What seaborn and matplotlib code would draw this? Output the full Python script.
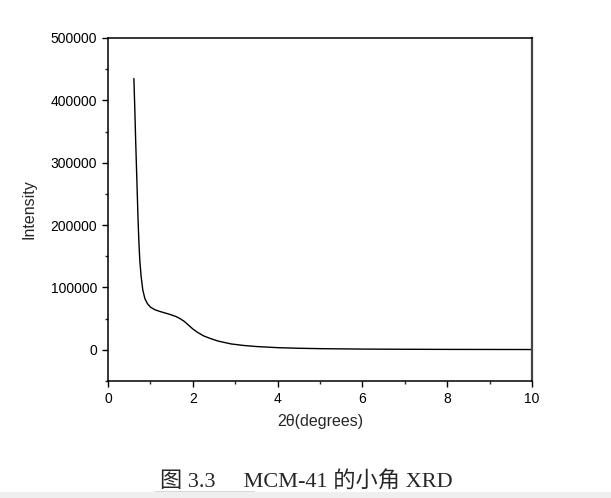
import matplotlib
matplotlib.use("Agg")
import matplotlib.pyplot as plt
import matplotlib.patches as mpatches
from matplotlib.ticker import MultipleLocator
import seaborn as sns
import pandas as pd

# small-angle XRD of MCM-41
two_theta = [0.61, 0.63, 0.65, 0.67, 0.69, 0.71, 0.73, 0.75, 0.78, 0.82, 0.87,
             0.93, 1.00, 1.10, 1.20, 1.30, 1.45, 1.60, 1.70, 1.80, 1.90,
             2.00, 2.10, 2.25, 2.40, 2.60, 2.90, 3.20, 3.50, 4.00, 4.50,
             5.00, 6.00, 7.00, 8.00, 9.00, 10.00]
intensity = [435000, 390000, 340000, 295000, 250000, 205000, 170000, 143000, 118000, 96000, 82000,
             74000, 68500, 64500, 62000, 60000, 57000, 53500, 50000, 45500, 39500,
             33500, 28500, 22500, 18500, 14000, 9500, 7000, 5300, 3500, 2500,
             1900, 1200, 900, 700, 600, 500]

x_ticks = [0, 2, 4, 6, 8, 10]
y_ticks = [0, 100000, 200000, 300000, 400000, 500000]
caption = "图 3.3     MCM-41 的小角 XRD"

df = pd.DataFrame({"two_theta": two_theta, "intensity": intensity})

sns.set_style("ticks")
plt.rcParams["font.family"] = ["Liberation Sans", "DejaVu Sans"]

fig = plt.figure(figsize=(6.11, 4.98), dpi=100)
ax = fig.add_axes([0.1768, 0.2349, 0.6939, 0.6888])

sns.lineplot(data=df, x="two_theta", y="intensity", color="black", linewidth=1.0, ax=ax)

ax.set_xlim(0, 10)
ax.set_ylim(-50000, 500000)
ax.set_xticks(x_ticks)
ax.set_yticks(y_ticks)
ax.set_xticklabels([str(t) for t in x_ticks])
ax.set_yticklabels([str(t) for t in y_ticks])
ax.xaxis.set_minor_locator(MultipleLocator(1))
ax.yaxis.set_minor_locator(MultipleLocator(50000))
ax.tick_params(which="major", direction="out", length=4, width=1, labelsize=10,
               colors="black", pad=4)
ax.tick_params(which="minor", direction="out", length=2.5, width=1)
for side in ["left", "right", "top", "bottom"]:
    ax.spines[side].set_visible(True)
    ax.spines[side].set_linewidth(1.1)
    ax.spines[side].set_color("black")
ax.spines["right"].set_color("#444444")
ax.spines["right"].set_linewidth(1.6)

ax.set_xlabel("2θ(degrees)", fontsize=11.5, labelpad=6)
ax.set_ylabel("Intensity", fontsize=11.5, labelpad=10)

fig.text(0.502, 0.034, caption, ha="center", va="center", fontsize=16,
         family=["Liberation Serif", "Noto Sans CJK SC"])

# light strip along the bottom edge of the scanned page
fig.patches.append(mpatches.Rectangle((0, 0), 1, 0.012, transform=fig.transFigure,
                                      facecolor="#efefef", edgecolor="none"))
fig.patches.append(mpatches.Rectangle((0.254, 0.012), 0.164, 0.003, transform=fig.transFigure,
                                      facecolor="#d8d8d8", edgecolor="none"))

fig.savefig("out.png", dpi=100)
